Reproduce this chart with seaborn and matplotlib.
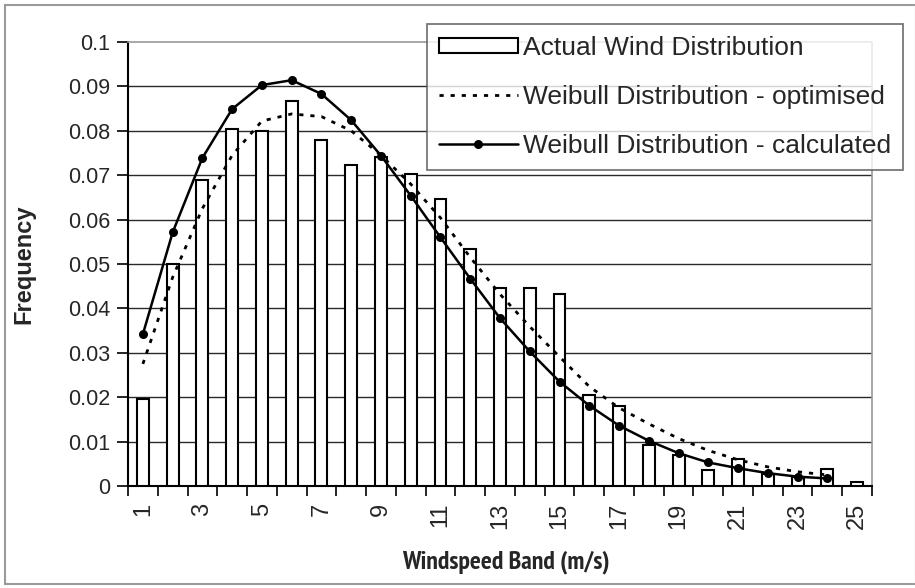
import matplotlib
matplotlib.use("Agg")
import matplotlib.pyplot as plt
import seaborn as sns
import numpy as np
import pandas as pd
from matplotlib.patches import Patch, Rectangle
from matplotlib.lines import Line2D
from matplotlib import font_manager

# ---- data ----
bands = [str(i) for i in range(1, 26)]
actual = [0.0196, 0.050, 0.069, 0.0805, 0.080, 0.0868, 0.078, 0.0722, 0.074, 0.0702,
          0.0647, 0.0534, 0.0446, 0.0446, 0.0432, 0.0205, 0.018, 0.0092, 0.007, 0.0035,
          0.006, 0.0028, 0.002, 0.0038, 0.0008]
optimised = [0.0275, 0.047, 0.0625, 0.0745, 0.0822, 0.0838, 0.0832, 0.0800, 0.0745, 0.068,
             0.0604, 0.0515, 0.0432, 0.0359, 0.0291, 0.0224, 0.0176, 0.014, 0.0107, 0.008,
             0.0059, 0.0043, 0.0032, 0.0025]
calculated = [0.0342, 0.0571, 0.0739, 0.0849, 0.0903, 0.0914, 0.0883, 0.0824, 0.0744, 0.0654,
              0.0560, 0.0467, 0.0378, 0.0303, 0.0235, 0.0181, 0.0136, 0.0102, 0.0074, 0.0053,
              0.0040, 0.0029, 0.0021, 0.0017]
yticks = [0, 0.01, 0.02, 0.03, 0.04, 0.05, 0.06, 0.07, 0.08, 0.09, 0.1]
ytick_labels = ["0", "0.01", "0.02", "0.03", "0.04", "0.05", "0.06", "0.07", "0.08", "0.09", "0.1"]
legend_labels = ["Actual Wind Distribution", "Weibull Distribution - optimised",
                 "Weibull Distribution - calculated"]

sns.set_theme(style="white")
plt.rcParams['font.family'] = ['Liberation Sans', 'DejaVu Sans']

# condensed bold font for the x axis title, if one is installed
cond_path = None
for f in font_manager.fontManager.ttflist:
    if f.stretch in ('condensed', 'semi-condensed') or 'Narrow' in f.name or 'Condensed' in f.name:
        if f.weight in ('bold', 700) or (isinstance(f.weight, int) and f.weight >= 700):
            cond_path = f.fname
            if 'Narrow' in f.name:
                break

W, H = 915, 588
fig = plt.figure(figsize=(W / 100, H / 100), dpi=100)
fig.patch.set_facecolor('white')
ax = fig.add_axes([128 / W, (H - 486) / H, (872 - 128) / W, (486 - 42) / H])

df_bar = pd.DataFrame({"band": bands, "freq": actual})
sns.barplot(data=df_bar, x="band", y="freq", ax=ax, color="white", edgecolor="black",
            linewidth=1.5, width=0.4, saturation=1, zorder=3)

df_opt = pd.DataFrame({"pos": np.arange(len(optimised)), "freq": optimised})
sns.lineplot(data=df_opt, x="pos", y="freq", ax=ax, color="black", linewidth=2.0,
             linestyle=(0, (1.5, 2.5)), zorder=4)
df_cal = pd.DataFrame({"pos": np.arange(len(calculated)), "freq": calculated})
sns.lineplot(data=df_cal, x="pos", y="freq", ax=ax, color="black", linewidth=1.8,
             marker="o", markersize=6.5, markeredgewidth=0, zorder=5)

ax.set_xlim(-0.5, 24.5)
ax.set_ylim(0, 0.1)
ax.set_yticks(yticks)
ax.set_yticklabels(ytick_labels, fontsize=15.5)
for y in yticks[1:-1]:
    ax.axhline(y, color="#2a2a2a", linewidth=1.0, zorder=1)

# x ticks: labels at odd bands, tick marks at band boundaries
ax.set_xticks(np.arange(0, 25, 2))
ax.set_xticklabels([bands[i] for i in range(0, 25, 2)], rotation=90, fontsize=17)
ax.set_xticks(np.arange(-0.5, 25, 1), minor=True)
ax.tick_params(axis='x', which='major', length=0, pad=12)
ax.tick_params(axis='x', which='minor', length=7, width=1.2, color='black', direction='out', bottom=True)
ax.tick_params(axis='y', which='major', length=8, width=1.2, color='black', direction='out', left=True, pad=5)

if cond_path is not None:
    fp = font_manager.FontProperties(fname=cond_path, size=18.5)
    ax.set_xlabel("Windspeed Band (m/s)", fontproperties=fp)
else:
    ax.set_xlabel("Windspeed Band (m/s)", fontsize=15, fontweight='bold')
ax.xaxis.set_label_coords(0.508, -0.146)
ax.set_ylabel("Frequency", fontsize=17, fontweight='bold')
ax.yaxis.set_label_coords(-0.124, 0.5)

for side in ['left', 'bottom']:
    ax.spines[side].set_color('black')
    ax.spines[side].set_linewidth(1.5)
for side in ['top', 'right']:
    ax.spines[side].set_color('#9a9a9a')
    ax.spines[side].set_linewidth(1.2)
    ax.spines[side].set_linestyle((0, (2, 1)))

handles = [
    Patch(facecolor='white', edgecolor='black', linewidth=1.5),
    Line2D([], [], color='black', linewidth=2.0, linestyle=(0, (1.5, 2.5))),
    Line2D([], [], color='black', linewidth=1.8, marker='o', markersize=6.5, markeredgewidth=0),
]
leg = fig.legend(handles, legend_labels, loc='upper right',
                 bbox_to_anchor=(903 / W, 1 - 24 / H), borderaxespad=0,
                 fontsize=19, handlelength=3.0, handleheight=0.55, handletextpad=0.2,
                 labelspacing=0.95, fancybox=False, frameon=True, borderpad=0.45)
leg.get_frame().set_edgecolor('#555555')
leg.get_frame().set_linewidth(1.3)

# figure border
fig.add_artist(Rectangle((5 / W, 4 / H), (W - 4) / W, (H - 9) / H, transform=fig.transFigure,
                         fill=False, edgecolor='#9a9a9a', linewidth=1.5))

fig.savefig("out.png", dpi=100, facecolor='white')
